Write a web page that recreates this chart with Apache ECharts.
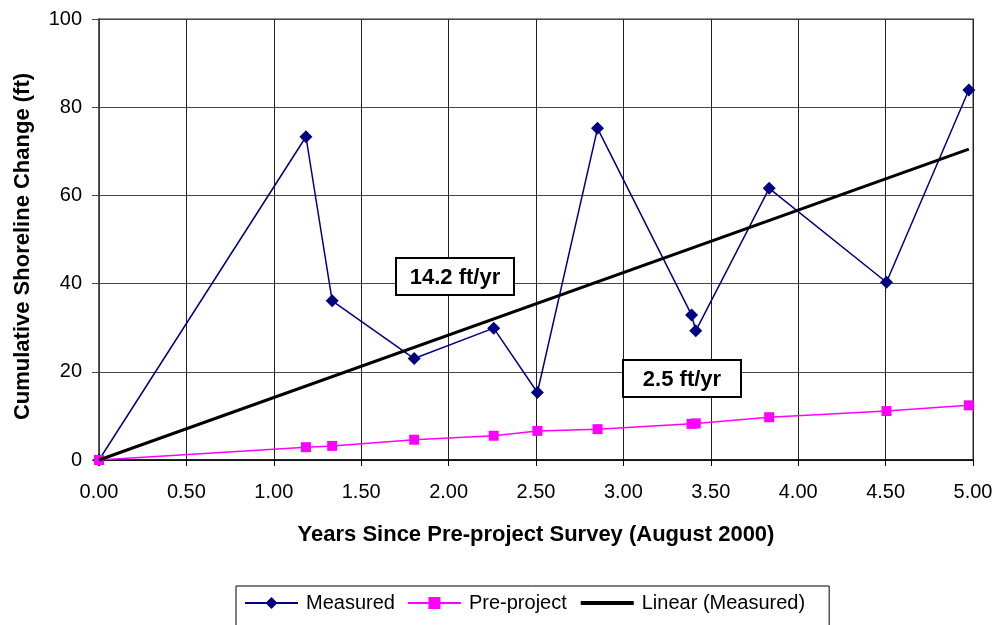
<!DOCTYPE html>
<html>
<head>
<meta charset="utf-8">
<script src="https://cdn.jsdelivr.net/npm/echarts@6/dist/echarts.min.js"></script>
<style>
html,body{margin:0;padding:0;background:#fff;}
#chart{width:1000px;height:625px;}
</style>
</head>
<body>
<div id="chart"></div>
<script>
// Data
var years = [0, 1.184, 1.334, 1.803, 2.258, 2.508, 2.852, 3.390, 3.414, 3.834, 4.505, 4.976];
var measured = [0, 73.3, 36.1, 23.0, 29.9, 15.3, 75.2, 32.9, 29.3, 61.6, 40.3, 83.9];
var preProject = [0, 2.9, 3.2, 4.6, 5.5, 6.6, 7.0, 8.2, 8.3, 9.7, 11.1, 12.4];
var trendX = [0, 4.976];
var trendY = [0, 70.5];
var rateLabels = ["14.2 ft/yr", "2.5 ft/yr"];
var seriesNames = ["Measured", "Pre-project", "Linear (Measured)"];

function pairs(xs, ys) { return xs.map(function (x, i) { return [x, ys[i]]; }); }

var chart = echarts.init(document.getElementById('chart'));
var FONT = 'Liberation Sans, Arial, sans-serif';

function labelBox(text, left, top) {
  var w = 118, h = 37;
  return {
    type: 'group', left: left, top: top, z: 100,
    children: [
      { type: 'rect', shape: { x: 0, y: 0, width: w, height: h }, style: { fill: '#fff', stroke: '#000', lineWidth: 2 }, z: 100 },
      { type: 'text', x: w / 2, y: h / 2 + 1, z: 101,
        style: { text: text, font: 'bold 22px ' + FONT, fill: '#000', align: 'center', verticalAlign: 'middle' } }
    ]
  };
}

chart.setOption({
  animation: false,
  backgroundColor: '#fff',
  textStyle: { fontFamily: FONT },
  grid: { left: 99, right: 27, top: 19, bottom: 165, containLabel: false, outerBoundsMode: 'none', show: true, borderColor: '#999', borderWidth: 2, backgroundColor: '#fff' },
  xAxis: {
    type: 'value', min: 0, max: 5, interval: 0.5,
    name: 'Years Since Pre-project Survey (August 2000)',
    nameLocation: 'middle', nameGap: 64,
    nameTextStyle: { fontFamily: FONT, fontSize: 22, fontWeight: 'bold', color: '#000' },
    axisLine: { show: true, onZero: false, lineStyle: { color: '#000', width: 1.5 } },
    axisTick: { show: true, inside: false, length: 6, lineStyle: { color: '#000' } },
    axisLabel: { margin: 22, fontSize: 20, color: '#000', fontFamily: FONT, formatter: function (v) { return v.toFixed(2); } },
    splitLine: { show: true, lineStyle: { color: '#222', width: 1 } }
  },
  yAxis: {
    type: 'value', min: 0, max: 100, interval: 20,
    name: 'Cumulative Shoreline Change (ft)',
    nameLocation: 'middle', nameGap: 65, nameRotate: 90,
    nameTextStyle: { fontFamily: FONT, fontSize: 22, fontWeight: 'bold', color: '#000', padding: [0, 14, 0, 0] },
    axisLine: { show: true, lineStyle: { color: '#444', width: 1.5 } },
    axisTick: { show: true, inside: false, length: 7, lineStyle: { color: '#444' } },
    axisLabel: { margin: 17, fontSize: 20, color: '#000', fontFamily: FONT },
    splitLine: { show: true, lineStyle: { color: '#444', width: 1 } }
  },
  legend: {
    left: 236, top: 586,
    padding: [7, 24, 18, 8],
    borderColor: '#000', borderWidth: 1,
    itemWidth: 53, itemHeight: 15, itemGap: 12,
    textStyle: { fontSize: 20, color: '#000', fontFamily: FONT, padding: [0, 0, 0, 3] },
    data: [
      { name: seriesNames[0], lineStyle: { width: 2 } },
      { name: seriesNames[1], lineStyle: { width: 2 } },
      { name: seriesNames[2], lineStyle: { width: 4 }, itemStyle: { opacity: 0, color: 'rgba(0,0,0,0)', borderWidth: 0 } }
    ]
  },
  series: [
    {
      name: seriesNames[0], type: 'line', data: pairs(years, measured),
      symbol: 'diamond', symbolSize: 13,
      lineStyle: { color: '#000080', width: 1.5 },
      itemStyle: { color: '#000080' }, z: 3
    },
    {
      name: seriesNames[1], type: 'line', data: pairs(years, preProject),
      symbol: 'rect', symbolSize: 10,
      lineStyle: { color: '#FF00FF', width: 1.5 },
      itemStyle: { color: '#FF00FF' }, z: 4
    },
    {
      name: seriesNames[2], type: 'line', data: pairs(trendX, trendY),
      symbol: 'none', showSymbol: false,
      lineStyle: { color: '#000', width: 3 },
      itemStyle: { color: '#000' }, z: 5
    }
  ],
  graphic: [
    labelBox(rateLabels[0], 395, 257),
    labelBox(rateLabels[1], 622, 359)
  ]
});
</script>
</body>
</html>
